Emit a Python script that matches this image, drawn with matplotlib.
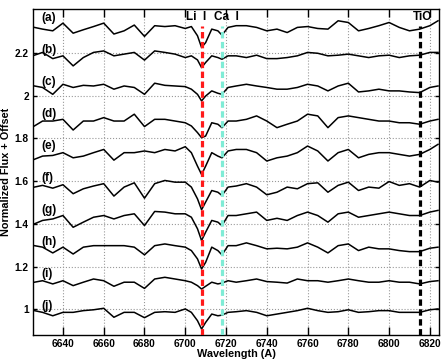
import numpy as np
import matplotlib
matplotlib.use("Agg")
import matplotlib.pyplot as plt
from matplotlib.ticker import FuncFormatter

plt.rcParams['font.family'] = ['Liberation Sans', 'DejaVu Sans']
plt.rcParams['font.weight'] = 'bold'

# ===================== DADOS =====================
wl = [6626, 6630, 6635, 6640, 6645, 6650, 6655, 6660, 6665, 6670, 6675, 6680,
      6685, 6690, 6695, 6700, 6703, 6706, 6708, 6710, 6713, 6716, 6718, 6721,
      6725, 6730, 6735, 6740, 6745, 6750, 6755, 6760, 6765, 6770, 6775, 6780,
      6785, 6790, 6795, 6800, 6805, 6810, 6815, 6820, 6824]

flux_a = [0.969, 0.961, 0.953, 0.989, 0.942, 0.958, 0.973, 0.989, 0.938, 0.953, 0.980, 0.927,
          0.977, 0.973, 0.977, 0.964, 0.973, 0.930, 0.875, 0.898, 0.961, 0.953, 0.933, 0.969,
          0.977, 0.977, 0.969, 0.953, 0.961, 0.945, 0.969, 0.973, 0.964, 0.961, 1.000, 0.992,
          0.953, 0.964, 0.977, 0.992, 0.969, 0.953, 0.961, 0.977, 1.000]
flux_b = [0.989, 1.002, 0.973, 0.986, 0.939, 0.978, 1.002, 1.009, 0.986, 0.994, 1.002, 0.966,
          1.009, 1.002, 0.994, 0.978, 0.986, 0.967, 0.931, 0.955, 0.986, 0.978, 0.970, 0.986,
          0.986, 0.978, 0.989, 0.973, 0.973, 0.978, 0.986, 1.002, 0.998, 0.986, 0.989, 0.994,
          0.986, 0.978, 0.986, 0.989, 0.978, 0.986, 0.989, 1.002, 1.002]
flux_c = [0.995, 0.988, 0.956, 1.003, 0.988, 0.998, 0.995, 1.003, 0.980, 0.995, 0.988, 0.956,
          1.008, 0.998, 0.995, 0.992, 0.980, 0.956, 0.925, 0.948, 0.972, 0.961, 0.956, 0.988,
          0.995, 1.003, 0.995, 0.988, 0.980, 0.980, 0.988, 1.003, 0.995, 0.972, 0.995, 1.008,
          0.967, 0.972, 0.980, 0.972, 0.972, 0.967, 0.964, 0.988, 0.995]
flux_d = [0.958, 0.981, 0.981, 0.989, 0.939, 0.981, 0.981, 0.997, 0.981, 0.981, 1.013, 0.955,
          0.989, 0.989, 0.981, 0.973, 0.958, 0.927, 0.903, 0.911, 0.973, 0.966, 0.950, 0.981,
          0.981, 0.989, 1.005, 0.981, 0.950, 0.966, 0.981, 1.013, 1.005, 0.950, 0.997, 1.005,
          0.997, 0.989, 0.981, 0.981, 0.973, 0.973, 0.966, 0.981, 0.989]
flux_e = [0.952, 0.967, 0.970, 0.983, 0.959, 0.967, 0.983, 0.998, 0.948, 0.983, 0.983, 0.991,
          0.983, 0.998, 0.991, 1.011, 0.983, 0.920, 0.881, 0.920, 0.983, 0.967, 0.959, 0.991,
          0.998, 0.998, 0.983, 0.944, 0.959, 0.967, 0.983, 1.014, 0.991, 0.944, 0.983, 0.998,
          0.959, 0.975, 0.983, 0.983, 0.975, 0.967, 0.975, 0.998, 1.022]
flux_f = [0.972, 0.980, 0.967, 0.983, 0.941, 0.964, 0.977, 0.988, 0.930, 0.972, 0.992, 0.920,
          0.988, 1.003, 0.995, 0.995, 0.972, 0.917, 0.866, 0.902, 0.956, 0.948, 0.933, 0.972,
          0.977, 0.988, 0.972, 0.936, 0.948, 0.972, 0.964, 0.988, 0.992, 0.948, 0.980, 0.995,
          0.956, 0.972, 0.967, 0.998, 0.980, 0.988, 0.972, 1.003, 0.995]
flux_g = [0.950, 0.966, 0.973, 0.989, 0.934, 0.958, 0.981, 0.989, 0.973, 0.989, 0.997, 0.942,
          1.008, 1.005, 0.997, 0.997, 0.981, 0.927, 0.872, 0.911, 0.966, 0.958, 0.942, 0.989,
          0.989, 0.997, 1.005, 0.966, 0.976, 0.966, 0.989, 1.005, 0.989, 0.958, 0.997, 1.005,
          0.981, 0.989, 0.997, 1.005, 0.997, 0.989, 0.989, 1.005, 1.013]
flux_h = [0.998, 0.991, 0.964, 0.991, 0.959, 0.991, 0.998, 0.998, 0.998, 0.998, 0.991, 0.955,
          0.998, 1.006, 0.998, 0.991, 0.975, 0.936, 0.889, 0.920, 0.991, 0.975, 0.955, 0.998,
          0.998, 1.011, 0.998, 0.983, 0.986, 0.983, 0.991, 1.011, 0.991, 0.964, 0.998, 1.006,
          0.975, 0.991, 0.983, 0.983, 0.975, 0.970, 0.970, 0.986, 0.991]
flux_i = [0.977, 0.984, 0.969, 0.984, 0.961, 0.977, 0.992, 0.984, 0.958, 0.977, 0.977, 0.948,
          0.992, 1.000, 0.992, 0.984, 0.977, 0.961, 0.945, 0.958, 0.977, 0.969, 0.973, 0.984,
          0.977, 0.984, 0.992, 0.980, 0.977, 0.973, 0.992, 0.984, 0.984, 0.977, 0.984, 0.992,
          0.984, 0.977, 0.977, 0.984, 0.977, 0.977, 0.969, 0.980, 0.984]
flux_j = [0.994, 0.986, 0.970, 0.986, 0.986, 0.994, 0.998, 1.005, 0.963, 0.986, 0.986, 0.961,
          0.986, 0.989, 0.986, 1.002, 0.986, 0.947, 0.908, 0.939, 0.978, 0.970, 0.973, 0.986,
          0.989, 0.994, 0.986, 0.970, 0.978, 0.986, 0.994, 1.005, 0.994, 0.986, 0.989, 0.998,
          0.986, 0.989, 0.994, 0.994, 0.986, 0.986, 0.986, 0.998, 1.002]

espectros = [flux_a, flux_b, flux_c, flux_d, flux_e, flux_f, flux_g, flux_h, flux_i, flux_j]
rotulos = ['(a)', '(b)', '(c)', '(d)', '(e)', '(f)', '(g)', '(h)', '(i)', '(j)']
offsets = [1.35, 1.20, 1.05, 0.90, 0.75, 0.60, 0.45, 0.30, 0.15, 0.00]

# linhas espectrais marcadas
linhas_wl = [6708, 6718, 6815]
linhas_nome = ['Li  I', 'Ca  I', 'TiO']
linhas_txt_x = [6700.3, 6714.3, 6811.5]
linhas_cor = ['#ff1a1a', '#7fecd6', 'black']

# ============================= PLOT ==============================
fig = plt.figure(figsize=(4.44, 3.61), dpi=100)
ax = fig.add_axes([0.0743, 0.072, 0.9145, 0.903])

for fl, off, lab in zip(espectros, offsets, rotulos):
    ax.plot(wl, np.array(fl) + off, color='black', linewidth=1.1)
    ax.text(6629.5, off + 1.015, lab, fontsize=8.5, fontweight='bold', va='center', ha='left')

for w, nome, tx, cor in zip(linhas_wl, linhas_nome, linhas_txt_x, linhas_cor):
    ax.vlines(w, 0.88, 2.325, colors=cor, linewidth=2.3, linestyles=(0, (2, 1.1)), zorder=3)
    ax.text(tx, 2.368, nome, fontsize=8.5, fontweight='bold', ha='left', va='center')

ax.set_xlim(6625.3, 6824.5)
ax.set_ylim(0.88, 2.405)
ax.set_xticks(np.arange(6640, 6821, 20))
ax.set_yticks([1.0, 1.2, 1.4, 1.6, 1.8, 2.0, 2.2])
ax.yaxis.set_major_formatter(FuncFormatter(lambda v, p: f"{v:g}"))
ax.grid(True, linestyle=':', color='#999999', linewidth=0.8)
ax.tick_params(axis='x', direction='in', length=6, width=1, top=True, labelsize=7.3, pad=3)
ax.tick_params(axis='y', direction='in', length=3, width=1, right=True, labelsize=7.3, pad=3)
for lbl in ax.get_xticklabels() + ax.get_yticklabels():
    lbl.set_fontweight('bold')
for s in ax.spines.values():
    s.set_linewidth(1.0)

ax.set_xlabel("Wavelength (A)", fontsize=7.8, fontweight='bold', labelpad=0)
ax.set_ylabel("Normalized Flux + Offset", fontsize=7.8, fontweight='bold', labelpad=3)

fig.savefig("out.png", dpi=100)
